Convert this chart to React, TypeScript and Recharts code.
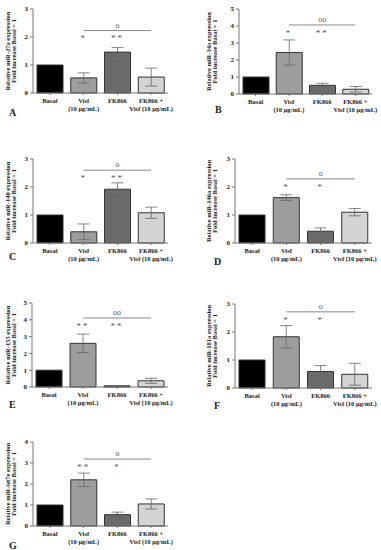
import React from "react";
import { Bar, Cell, ComposedChart, ErrorBar, LabelList, Line, ReferenceLine, XAxis, YAxis } from "recharts";

const groups = ["Basal", "Visf", "FK866", "FK866 + Visf"];
const groupLines = [["Basal"], ["Visf", "(10 μg/mL)"], ["FK866"], ["FK866 +", "Visf (10 μg/mL)"]];
const barColors = ["#000000", "#9d9d9d", "#6b6b6b", "#d4d4d4"];

// A - miR-27a
const mir27aMean = [1, 0.54, 1.46, 0.57];
const mir27aSem = [0, 0.18, 0.16, 0.32];
const mir27aStars = ["", "*", "**", ""];
// B - miR-34a
const mir34aMean = [1, 2.44, 0.51, 0.28];
const mir34aSem = [0, 0.74, 0.12, 0.16];
const mir34aStars = ["", "*", "**", ""];
// C - miR-140
const mir140Mean = [1, 0.4, 1.92, 1.08];
const mir140Sem = [0, 0.28, 0.23, 0.2];
const mir140Stars = ["", "*", "**", ""];
// D - miR-146a
const mir146aMean = [1, 1.62, 0.42, 1.1];
const mir146aSem = [0, 0.1, 0.12, 0.13];
const mir146aStars = ["", "*", "*", ""];
// E - miR-155
const mir155Mean = [1, 2.6, 0.07, 0.37];
const mir155Sem = [0, 0.55, 0, 0.15];
const mir155Stars = ["", "**", "**", ""];
// F - miR-181a
const mir181aMean = [1, 1.83, 0.59, 0.49];
const mir181aSem = [0, 0.4, 0.21, 0.39];
const mir181aStars = ["", "*", "*", ""];
// G - miR-let7e
const let7eMean = [1, 2.2, 0.54, 1.05];
const let7eSem = [0, 0.32, 0.12, 0.24];
const let7eStars = ["", "**", "*", ""];

const serif = "'Liberation Serif', 'DejaVu Serif', serif";

function GroupTick({ x, y, payload }: any) {
  const lines = groupLines[payload.index] || [payload.value];
  return (
    <text x={x} y={y + 6} textAnchor="middle" fontSize={6.5} fontWeight="bold" fontFamily={serif} fill="#222">
      {lines.map((l, i) => (
        <tspan key={i} x={x} dy={i === 0 ? 0 : 8}>
          {l}
        </tspan>
      ))}
    </text>
  );
}

interface PanelProps {
  letter: string;
  mir: string;
  mean: number[];
  sem: number[];
  stars: string[];
  yMax: number;
  starY: number;
  lineY: number;
  mark: string;
  chartLeft: number;
  axisX: number;
  plotTop: number;
  plotBottom: number;
  plotRight: number;
  letterX: number;
  letterY: number;
}

function Panel(p: PanelProps) {
  const rows = groups.map((g, i) => ({ group: g, mean: p.mean[i], sem: p.sem[i], stars: p.stars[i], starY: p.starY }));
  const ticks = Array.from({ length: p.yMax + 1 }, (_, i) => i);
  const topM = 9;
  const rightM = 14;
  const xH = 30;
  const width = p.plotRight + rightM - p.chartLeft;
  const height = topM + (p.plotBottom - p.plotTop) + xH;
  const yWidth = p.axisX - p.chartLeft;

  const yLabel = ({ viewBox }: any) => {
    const cy = viewBox.y + viewBox.height / 2;
    return (
      <text transform={`translate(0, ${cy}) rotate(-90)`} textAnchor="middle" fontSize={6.5} fontWeight="bold" fontFamily={serif} fill="#222">
        <tspan x={0} y={9.5}>{`Relative ${p.mir} expression`}</tspan>
        <tspan x={0} y={16}>Fold increase Basal = 1</tspan>
      </text>
    );
  };

  const markLabel = ({ viewBox }: any) => (
    <text x={viewBox.x + viewBox.width / 2} y={viewBox.y - 3} textAnchor="middle" fontSize={8} fill="#555" fontFamily={serif}>
      {p.mark}
    </text>
  );

  return (
    <>
      <div style={{ position: "absolute", left: p.chartLeft, top: p.plotTop - topM }}>
        <ComposedChart width={width} height={height} data={rows} margin={{ top: topM, right: rightM, left: 0, bottom: 0 }}>
          <XAxis dataKey="group" interval={0} height={xH} tick={<GroupTick />} tickSize={2} stroke="#777" />
          <YAxis
            width={yWidth}
            domain={[0, p.yMax]}
            ticks={ticks}
            tickSize={3}
            tickMargin={2}
            stroke="#777"
            tick={{ fontSize: 7, fontWeight: "bold", fontFamily: serif, fill: "#222" }}
            label={{ content: yLabel }}
          />
          <Bar dataKey="mean" barSize={26} stroke="#333" strokeWidth={1} isAnimationActive={false}>
            {rows.map((_, i) => (
              <Cell key={i} fill={barColors[i]} />
            ))}
            <ErrorBar dataKey="sem" width={6} stroke="#666" strokeWidth={0.8} />
          </Bar>
          <ReferenceLine
            segment={[
              { x: groups[1], y: p.lineY },
              { x: groups[3], y: p.lineY },
            ]}
            stroke="#888"
            strokeWidth={1}
            label={{ content: markLabel }}
          />
          <Line dataKey="starY" stroke="none" dot={false} activeDot={false} isAnimationActive={false}>
            <LabelList dataKey="stars" position="center" fontSize={9} fill="#555" fontFamily={serif} style={{ letterSpacing: 2 }} />
          </Line>
        </ComposedChart>
      </div>
      <div
        style={{
          position: "absolute",
          left: p.letterX - 4,
          top: p.letterY - 6,
          fontFamily: serif,
          fontWeight: "bold",
          fontSize: 10,
          lineHeight: "12px",
          color: "#222",
        }}
      >
        {p.letter}
      </div>
    </>
  );
}

export default function App() {
  return (
    <div style={{ position: "absolute", left: 0, top: 0, width: 381, height: 550, background: "#fff", overflow: "hidden" }}>
      <Panel letter="A" mir="miR-27a" mean={mir27aMean} sem={mir27aSem} stars={mir27aStars} yMax={3} starY={1.96} lineY={2.23} mark="o"
        chartLeft={0} axisX={33} plotTop={9} plotBottom={93} plotRight={168} letterX={13} letterY={113} />
      <Panel letter="B" mir="miR-34a" mean={mir34aMean} sem={mir34aSem} stars={mir34aStars} yMax={5} starY={3.62} lineY={4.06} mark="oo"
        chartLeft={201} axisX={239} plotTop={9} plotBottom={94} plotRight={372} letterX={219} letterY={110} />
      <Panel letter="C" mir="miR-140" mean={mir140Mean} sem={mir140Sem} stars={mir140Stars} yMax={3} starY={2.33} lineY={2.6} mark="o"
        chartLeft={0} axisX={33} plotTop={159} plotBottom={243} plotRight={168} letterX={13} letterY={257} />
      <Panel letter="D" mir="miR-146a" mean={mir146aMean} sem={mir146aSem} stars={mir146aStars} yMax={3} starY={2.0} lineY={2.29} mark="o"
        chartLeft={201} axisX={235} plotTop={159} plotBottom={243} plotRight={372} letterX={218} letterY={262} />
      <Panel letter="E" mir="miR-155" mean={mir155Mean} sem={mir155Sem} stars={mir155Stars} yMax={5} starY={3.62} lineY={4.11} mark="oo"
        chartLeft={0} axisX={32} plotTop={303} plotBottom={387} plotRight={168} letterX={13} letterY={405} />
      <Panel letter="F" mir="miR-181a" mean={mir181aMean} sem={mir181aSem} stars={mir181aStars} yMax={3} starY={2.43} lineY={2.72} mark="o"
        chartLeft={201} axisX={235} plotTop={304} plotBottom={388} plotRight={372} letterX={218} letterY={406} />
      <Panel letter="G" mir="miR-let7e" mean={let7eMean} sem={let7eSem} stars={let7eStars} yMax={4} starY={2.8} lineY={3.19} mark="o"
        chartLeft={0} axisX={33} plotTop={442} plotBottom={526} plotRight={168} letterX={13} letterY={546} />
    </div>
  );
}
